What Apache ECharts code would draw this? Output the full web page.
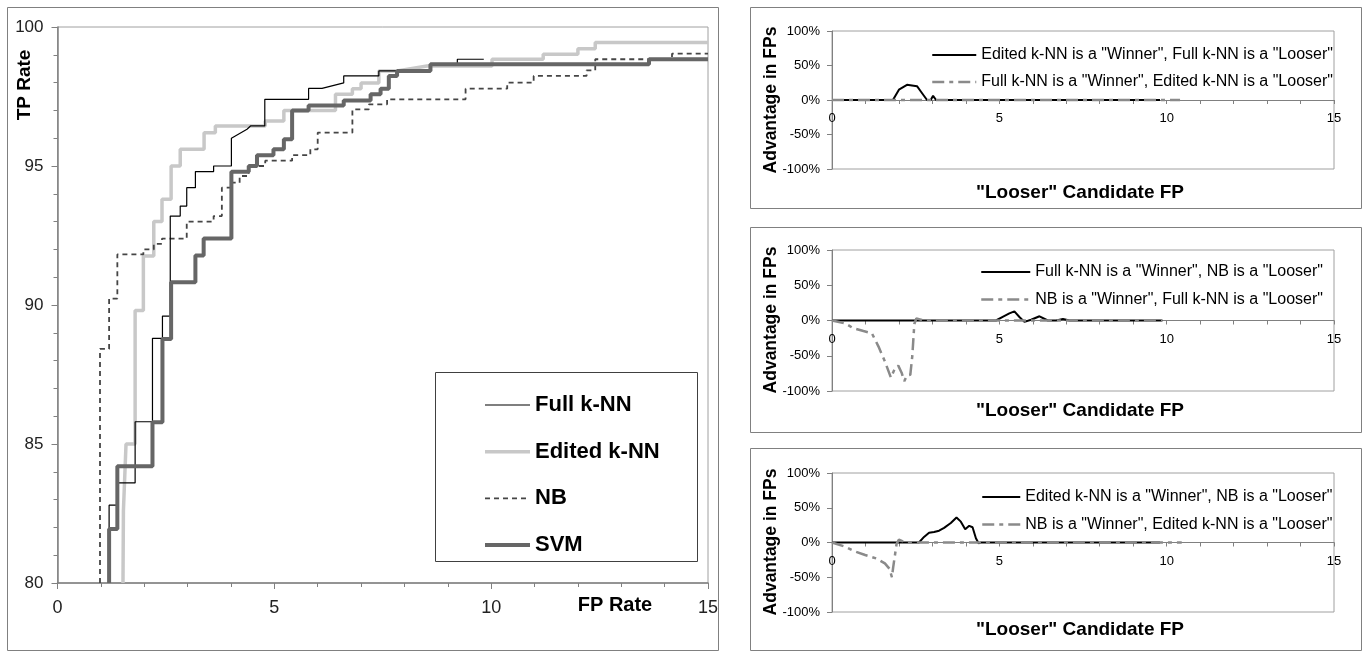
<!DOCTYPE html>
<html><head><meta charset="utf-8">
<script src="https://cdn.jsdelivr.net/npm/echarts/dist/echarts.min.js"></script>
<style>html,body{margin:0;padding:0;background:#fff}#c{width:1369px;height:653px}</style>
</head><body><div id="c"></div>
<script>
// ---------- Main ROC chart data (FP rate %, TP rate %) ----------
const fullKnnFP = [1.19,1.19,1.38,1.38,1.79,1.79,2.19,2.19,2.42,2.42,2.6,2.6,2.83,2.83,2.98,2.98,3.18,3.18,3.6,3.6,4.01,4.01,4.37,4.45,4.78,4.78,5.79,5.79,6.1,6.6,6.6,7.41,7.41,8.6,8.6,9.22,9.22,9.83];
const fullKnnTP = [80,82.8,82.8,83.6,83.6,85.8,85.8,88.8,88.8,89.6,89.6,93.2,93.2,93.56,93.56,94.22,94.22,94.8,94.8,95.0,95.0,96.0,96.32,96.44,96.44,97.4,97.4,97.79,97.79,97.99,98.24,98.24,98.42,98.42,98.66,98.66,98.84,98.84];

const editedKnnFP = [1.51,1.52,1.58,1.79,1.79,1.98,1.98,2.22,2.22,2.41,2.41,2.62,2.62,2.83,2.83,3.38,3.38,3.64,3.64,4.79,4.79,5.22,5.22,6.41,6.41,6.8,6.8,7.0,7.0,7.41,7.41,7.83,8.52,10.02,10.02,11.2,11.2,12.0,12.0,12.4,12.4,15];
const editedKnnTP = [80,82.6,85.0,85.0,89.8,89.8,91.76,91.76,93.0,93.0,93.8,93.8,95.0,95.0,95.6,95.6,96.2,96.2,96.44,96.44,96.62,96.62,97.0,97.0,97.58,97.58,97.78,97.78,97.99,97.99,98.42,98.42,98.6,98.6,98.84,98.84,99.02,99.02,99.22,99.22,99.44,99.44];

const nbFP = [0.98,0.98,1.19,1.19,1.38,1.38,1.98,1.98,2.22,2.22,2.41,2.41,2.98,2.98,3.6,3.6,3.79,3.79,4.01,4.01,4.2,4.2,4.41,4.41,4.79,4.79,5.41,5.41,5.83,5.83,6.0,6.0,6.8,6.8,7.18,7.18,7.6,7.6,9.41,9.41,10.37,10.37,10.98,10.98,12.2,12.2,12.4,12.4,14.17,14.17,15];
const nbTP = [80,88.42,88.42,90.23,90.23,91.82,91.82,92.0,92.0,92.2,92.2,92.39,92.39,93.0,93.0,93.2,93.2,94.22,94.22,94.4,94.4,94.64,94.64,95.0,95.0,95.19,95.19,95.39,95.39,95.6,95.6,96.2,96.2,97.04,97.04,97.22,97.22,97.4,97.4,97.78,97.78,98.0,98.0,98.24,98.24,98.44,98.44,98.84,98.84,99.04,99.04];

const svmFP = [1.19,1.19,1.38,1.38,2.19,2.19,2.42,2.42,2.62,2.62,3.18,3.18,3.37,3.37,4.01,4.01,4.41,4.41,4.6,4.6,4.98,4.98,5.22,5.22,5.41,5.41,5.79,5.79,6.6,6.6,7.22,7.22,7.45,7.45,7.64,7.64,7.83,7.83,8.6,8.6,13.64,13.64,15];
const svmTP = [80,81.94,81.94,84.2,84.2,85.78,85.78,88.78,88.78,90.82,90.82,91.78,91.78,92.39,92.39,94.79,94.79,95.0,95.0,95.39,95.39,95.6,95.6,95.96,95.96,97.0,97.0,97.18,97.18,97.36,97.36,97.58,97.58,97.78,97.78,98.24,98.24,98.42,98.42,98.66,98.66,98.84,98.84];

const mainXTicks = [0, 5, 10, 15];
const mainYTicks = [80, 85, 90, 95, 100];

// ---------- Panel 1: Edited k-NN vs Full k-NN ----------
const p1WinEditedX = [0,1.82,2.0,2.24,2.54,2.66,2.84,2.95,3.02,3.11,9.8];
const p1WinEditedY = [0,0,15,22,20,12,0,0,6,0,0];
const p1WinFullX = [0,10.4];
const p1WinFullY = [0,0];

// ---------- Panel 2: Full k-NN vs NB ----------
const p2WinFullX = [0,4.9,5.1,5.3,5.45,5.6,5.75,5.95,6.2,6.45,6.7,6.9,7.1,9.87];
const p2WinFullY = [0,0,5,10,13,5,-2,1,6,0,0,2,0,0];
const p2WinNbX = [0,0.39,0.64,0.94,1.19,1.39,1.58,1.76,1.88,1.98,2.08,2.16,2.24,2.34,2.4,2.46,2.52,2.6,2.75,9.87];
const p2WinNbY = [0,-4,-11,-15,-18,-37,-58,-81,-68,-64,-74,-86,-78,-77,-50,-5,3,2,0,0];

// ---------- Panel 3: Edited k-NN vs NB ----------
const p3WinEditedX = [0,2.6,2.75,2.9,3.05,3.2,3.35,3.55,3.72,3.85,3.98,4.1,4.2,4.3,4.38,4.45,9.8];
const p3WinEditedY = [0,0,8,14,15,17,21,28,36,30,19,24,22,6,-1,0,0];
const p3WinNbX = [0,0.39,0.69,0.99,1.33,1.58,1.72,1.79,1.83,1.93,2.0,2.1,2.2,10.45];
const p3WinNbY = [0,-6,-13,-18,-23,-30,-38,-50,-35,-2,4,2,0,0];

const panelYTicks = [-100, -50, 0, 50, 100];

const names = {
  full: 'Full k-NN', edited: 'Edited k-NN', nb: 'NB', svm: 'SVM',
  p1a: 'Edited k-NN is a "Winner", Full k-NN is a "Looser"',
  p1b: 'Full k-NN is a "Winner", Edited k-NN is a "Looser"',
  p2a: 'Full k-NN is a "Winner", NB is a "Looser"',
  p2b: 'NB is a "Winner", Full k-NN is a "Looser"',
  p3a: 'Edited k-NN is a "Winner", NB is a "Looser"',
  p3b: 'NB is a "Winner", Edited k-NN is a "Looser"'
};

const zip = (xs, ys) => xs.map((x, i) => [x, ys[i]]);
const FONT = '"Liberation Sans", Arial, sans-serif';

const chart = echarts.init(document.getElementById('c'), null, {renderer: 'canvas'});

const mainGrid = {left: 57.5, top: 27, width: 650.5, height: 556, show: true, borderColor: '#a0a0a0', borderWidth: 1};
const panelBoxes = [
  {left: 832, top: 31, width: 502, height: 138},
  {left: 832, top: 250, width: 502, height: 141},
  {left: 832, top: 473, width: 502, height: 139}
];
const panelGrids = panelBoxes.map(g => Object.assign({show: true, borderColor: '#a0a0a0', borderWidth: 1}, g));

const axisGray = '#808080';

const xAxes = [{
  gridIndex: 0, type: 'value', min: mainXTicks[0], max: mainXTicks[mainXTicks.length-1], interval: 5,
  axisLine: {show: true, onZero: false, lineStyle: {color: axisGray, width: 1.5}},
  axisTick: {show: true, length: 6, lineStyle: {color: axisGray}},
  minorTick: {show: true, splitNumber: 5, length: 4, lineStyle: {color: axisGray}},
  splitLine: {show: false},
  axisLabel: {fontSize: 18, color: '#222', margin: 16, fontFamily: FONT}
}];
const yAxes = [{
  gridIndex: 0, type: 'value', min: mainYTicks[0], max: mainYTicks[mainYTicks.length-1], interval: 5,
  axisLine: {show: true, onZero: false, lineStyle: {color: axisGray, width: 1.5}},
  axisTick: {show: true, length: 6, lineStyle: {color: axisGray}},
  minorTick: {show: true, splitNumber: 5, length: 4, lineStyle: {color: axisGray}},
  splitLine: {show: false},
  axisLabel: {fontSize: 17, color: '#222', margin: 14, fontFamily: FONT}
}];
for (let i = 1; i <= 3; i++) {
  // the panel x-axis sits on the 0% line, i.e. the middle of the symmetric -100%..100% range
  xAxes.push({
    gridIndex: i, type: 'value', min: 0, max: 15, interval: 5, position: 'bottom',
    offset: -panelBoxes[i-1].height / 2,
    axisLine: {show: true, onZero: false, lineStyle: {color: axisGray, width: 1}},
    axisTick: {show: true, length: 4, inside: false, lineStyle: {color: axisGray}},
    minorTick: {show: true, splitNumber: 5, length: 4, lineStyle: {color: axisGray}},
    splitLine: {show: false},
    axisLabel: {fontSize: 13, color: '#000', margin: 12, fontFamily: FONT}
  });
  yAxes.push({
    gridIndex: i, type: 'value', min: panelYTicks[0], max: panelYTicks[panelYTicks.length-1], interval: 50,
    axisLine: {show: true, onZero: false, lineStyle: {color: axisGray, width: 1}},
    axisTick: {show: true, length: 5, lineStyle: {color: axisGray}},
    splitLine: {show: false},
    axisLabel: {fontSize: 13, color: '#000', margin: 12, fontFamily: FONT, formatter: '{value}%'}
  });
}

function lineSeries(name, data, idx, style, z) {
  return {name, type: 'line', data, xAxisIndex: idx, yAxisIndex: idx, symbol: 'none',
    showSymbol: false, lineStyle: style, itemStyle: {color: style.color, opacity: 0}, z: z || 2, silent: true};
}

const styles = {
  full: {color: '#000', width: 1.2},
  edited: {color: '#c8c8c8', width: 3.5},
  nb: {color: '#454545', width: 1.8, type: [5, 4]},
  svm: {color: '#666', width: 4},
  panelBlack: {color: '#000', width: 2},
  panelGray: {color: '#8a8a8a', width: 2.5, type: [12, 5, 4, 5]}
};

const series = [
  lineSeries(names.edited, zip(editedKnnFP, editedKnnTP), 0, styles.edited, 2),
  lineSeries(names.nb, zip(nbFP, nbTP), 0, styles.nb, 3),
  lineSeries(names.full, zip(fullKnnFP, fullKnnTP), 0, styles.full, 4),
  lineSeries(names.svm, zip(svmFP, svmTP), 0, styles.svm, 5),
  lineSeries(names.p1a, zip(p1WinEditedX, p1WinEditedY), 1, styles.panelBlack, 3),
  lineSeries(names.p1b, zip(p1WinFullX, p1WinFullY), 1, styles.panelGray, 4),
  lineSeries(names.p2a, zip(p2WinFullX, p2WinFullY), 2, styles.panelBlack, 3),
  lineSeries(names.p2b, zip(p2WinNbX, p2WinNbY), 2, styles.panelGray, 4),
  lineSeries(names.p3a, zip(p3WinEditedX, p3WinEditedY), 3, styles.panelBlack, 3),
  lineSeries(names.p3b, zip(p3WinNbX, p3WinNbY), 3, styles.panelGray, 4)
];

const legendText = {fontSize: 16, color: '#000', fontFamily: FONT};
const noSymbol = {opacity: 0};
const item = (name, st) => ({name, lineStyle: {width: st.width, color: st.color, type: st.type || 'solid'}, itemStyle: noSymbol});
const legends = [
  {data: [item(names.full, styles.full), item(names.edited, styles.edited), item(names.nb, styles.nb), item(names.svm, styles.svm)],
   orient: 'vertical', left: 478, top: 389,
   itemWidth: 45, itemHeight: 12, itemGap: 24.7, selectedMode: false, itemStyle: noSymbol,
   textStyle: {fontSize: 22, fontWeight: 'bold', color: '#000', fontFamily: FONT}},
  {data: [item(names.p1a, styles.panelBlack), item(names.p1b, styles.panelGray)], orient: 'vertical', left: 926, top: 42, itemWidth: 44, itemHeight: 10, itemGap: 11, selectedMode: false, itemStyle: noSymbol, textStyle: legendText},
  {data: [item(names.p2a, styles.panelBlack), item(names.p2b, styles.panelGray)], orient: 'vertical', left: 975, top: 259, itemWidth: 49, itemHeight: 10, itemGap: 11.5, selectedMode: false, itemStyle: noSymbol, textStyle: legendText},
  {data: [item(names.p3a, styles.panelBlack), item(names.p3b, styles.panelGray)], orient: 'vertical', left: 976, top: 484, itemWidth: 38, itemHeight: 10, itemGap: 11.5, selectedMode: false, itemStyle: noSymbol, textStyle: legendText}
];

function txt(text, x, y, size, rot) {
  return {type: 'text', x, y, rotation: rot || 0, silent: true,
    style: {text, x: 0, y: 0, align: 'center', verticalAlign: 'middle', fontSize: size, fontWeight: 'bold', fill: '#000', fontFamily: FONT}};
}
function box(x, y, w, h, stroke) {
  return {type: 'rect', silent: true, shape: {x, y, width: w, height: h}, style: {fill: null, stroke: stroke || '#808080', lineWidth: 1}};
}

const graphic = [
  box(7.5, 7.5, 711, 643),
  box(750.5, 7.5, 611, 201),
  box(750.5, 227.5, 611, 205),
  box(750.5, 448.5, 611, 202),
  box(435.5, 372.5, 262, 189, '#404040'),
  txt('TP Rate', 25, 85, 19, Math.PI / 2),
  txt('FP Rate', 615, 605, 20),
  txt('Advantage in FPs', 771, 100, 17.5, Math.PI / 2),
  txt('Advantage in FPs', 771, 320, 17.5, Math.PI / 2),
  txt('Advantage in FPs', 771, 542, 17.5, Math.PI / 2),
  txt('"Looser" Candidate FP', 1080, 193, 19),
  txt('"Looser" Candidate FP', 1080, 411, 19),
  txt('"Looser" Candidate FP', 1080, 630, 19)
];

chart.setOption({
  animation: false,
  backgroundColor: '#fff',
  textStyle: {fontFamily: FONT},
  grid: [mainGrid].concat(panelGrids),
  xAxis: xAxes,
  yAxis: yAxes,
  legend: legends,
  series,
  graphic
});
</script></body></html>
